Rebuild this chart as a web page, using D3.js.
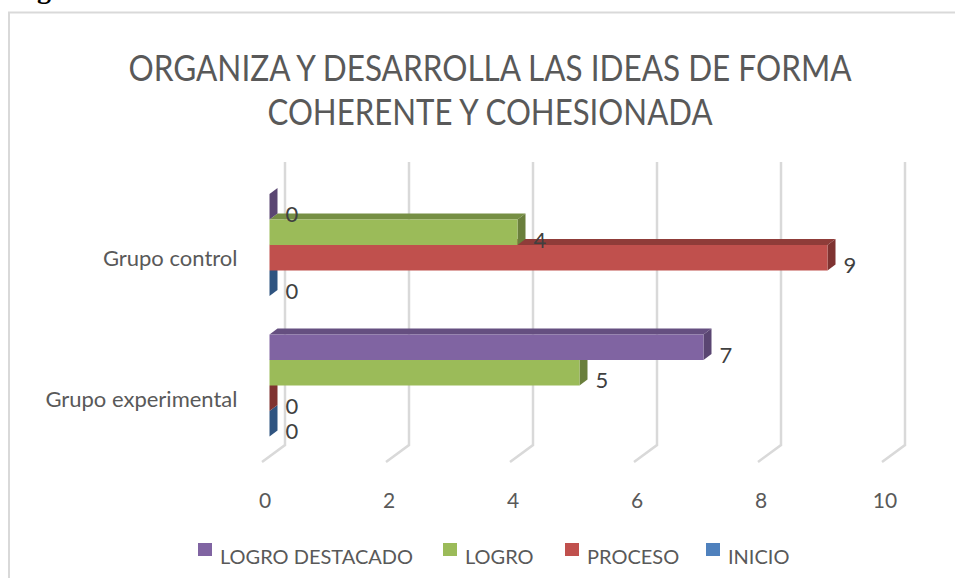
<!DOCTYPE html>
<html>
<head>
<meta charset="utf-8">
<script src="https://cdn.jsdelivr.net/npm/d3@7"></script>
<style>
  html, body { margin: 0; padding: 0; background: #fff; }
  svg { display: block; }
  text { font-family: Lato, "Open Sans", sans-serif; }
</style>
</head>
<body>
<div id="chart"></div>
<script>
var categories = ["Grupo control", "Grupo experimental"];
var seriesNames = ["LOGRO DESTACADO", "LOGRO", "PROCESO", "INICIO"];
var logroDestacado = [0, 7];
var logro = [4, 5];
var proceso = [9, 0];
var inicio = [0, 0];
var seriesValues = [logroDestacado, logro, proceso, inicio];
var xTicks = [0, 2, 4, 6, 8, 10];
var titleLines = ["ORGANIZA Y DESARROLLA LAS IDEAS DE FORMA", "COHERENTE Y COHESIONADA"];
var titleWidths = [723, 445];

var front = ["#8064A2", "#9BBB59", "#C0504D", "#4F81BD"];
var topFace = ["#654F80", "#768F44", "#8F3C39", "#3A6090"];
var sideFace = ["#5A4672", "#6A7F3C", "#7F3331", "#2F5480"];

var width = 955, height = 578;
var depthX = 8, depthY = -6;   // bar depth
var backX = 15.5, floorX = -7.5;  // bar plane -> back wall / front of floor
var wallTop = 162, wallBottom = 445, floorBottom = 462;

var svg = d3.select("#chart").append("svg")
    .attr("width", width)
    .attr("height", height);

// chart frame, cropped by the picture on the right and bottom
svg.append("path")
    .attr("d", "M9,578V12.5H955")
    .attr("fill", "none")
    .attr("stroke", "#d9d9d9")
    .attr("stroke-width", 2);

// caption above the chart, only its descender is left in the crop
svg.append("text")
    .attr("x", 12)
    .attr("y", -2)
    .style("font-family", "'Liberation Serif'")
    .style("font-weight", "bold")
    .style("font-size", "28px")
    .text("Figura");

var x = d3.scaleLinear().domain([0, 10]).range([269.5, 889.5]);
var y0 = d3.scaleBand().domain(categories).range([174.75, 455.75]).paddingInner(0.274).paddingOuter(0.137);
var y1 = d3.scaleBand().domain(seriesNames).range([0, y0.bandwidth()]);

svg.append("g").selectAll("text")
    .data(titleLines)
    .enter().append("text")
    .attr("x", 490)
    .attr("y", function(d, i) { return 81 + i * 44; })
    .attr("text-anchor", "middle")
    .attr("textLength", function(d, i) { return titleWidths[i]; })
    .attr("lengthAdjust", "spacingAndGlyphs")
    .style("font-size", "36px")
    .style("fill", "#595959")
    .text(function(d) { return d; });

// gridlines: back wall plus the floor stub
svg.append("g").selectAll("path")
    .data(xTicks)
    .enter().append("path")
    .attr("d", function(d) {
      return "M" + (x(d) + backX) + "," + wallTop
        + "V" + wallBottom
        + "L" + (x(d) + floorX) + "," + floorBottom;
    })
    .attr("fill", "none")
    .attr("stroke", "#d9d9d9")
    .attr("stroke-width", 2.5);

// flatten to one row per bar, lowest first so upper bars paint over
var bars = [];
categories.forEach(function(c, ci) {
  seriesNames.forEach(function(s, si) {
    bars.push({cat: c, name: s, si: si, value: seriesValues[si][ci]});
  });
});
bars.sort(function(a, b) {
  return (y0(b.cat) + y1(b.name)) - (y0(a.cat) + y1(a.name));
});

var bar = svg.append("g").selectAll("g")
    .data(bars)
    .enter().append("g");

bar.append("path")
    .attr("d", function(d) {
      var t = y0(d.cat) + y1(d.name);
      return "M" + x(0) + "," + t + "l" + depthX + "," + depthY
        + "H" + (x(d.value) + depthX) + "l" + (-depthX) + "," + (-depthY) + "Z";
    })
    .attr("fill", function(d) { return topFace[d.si]; });

bar.append("path")
    .attr("d", function(d) {
      var t = y0(d.cat) + y1(d.name);
      return "M" + x(d.value) + "," + t + "l" + depthX + "," + depthY
        + "v" + y1.bandwidth() + "l" + (-depthX) + "," + (-depthY) + "Z";
    })
    .attr("fill", function(d) { return sideFace[d.si]; });

bar.append("rect")
    .attr("x", x(0))
    .attr("y", function(d) { return y0(d.cat) + y1(d.name); })
    .attr("width", function(d) { return x(d.value) - x(0); })
    .attr("height", y1.bandwidth())
    .attr("fill", function(d) { return front[d.si]; });

svg.append("g").selectAll("text")
    .data(bars)
    .enter().append("text")
    .attr("x", function(d) { return x(d.value) + 16; })
    .attr("y", function(d) { return y0(d.cat) + y1(d.name) + y1.bandwidth() / 2 + 15.5; })
    .style("font-size", "22px")
    .style("fill", "#404040")
    .text(function(d) { return d.value; });

// axes
var xAxis = svg.append("g")
    .attr("transform", "translate(-5,490)")
    .call(d3.axisBottom(x).tickValues(xTicks).tickSize(0));
xAxis.select(".domain").remove();
xAxis.selectAll("text")
    .attr("y", 0)
    .attr("dy", "18")
    .style("font-size", "21px")
    .style("font-family", "Lato")
    .style("fill", "#595959");

var yAxis = svg.append("g")
    .attr("transform", "translate(237.5,14)")
    .call(d3.axisLeft(y0).tickSize(0).tickPadding(0));
yAxis.select(".domain").remove();
yAxis.selectAll("text")
    .style("font-size", "22px")
    .style("font-family", "Lato")
    .style("fill", "#595959");

// legend
var legendX = d3.scaleOrdinal().domain(seriesNames).range([198, 443, 565, 706]);
var legend = svg.append("g").selectAll("g")
    .data(seriesNames)
    .enter().append("g")
    .attr("transform", function(d) { return "translate(" + legendX(d) + ",543)"; });

legend.append("rect")
    .attr("width", 14)
    .attr("height", 13)
    .attr("fill", function(d, i) { return front[i]; });

legend.append("text")
    .attr("x", 22)
    .attr("y", 21)
    .style("font-size", "20px")
    .style("fill", "#595959")
    .text(function(d) { return d; });
</script>
</body>
</html>
